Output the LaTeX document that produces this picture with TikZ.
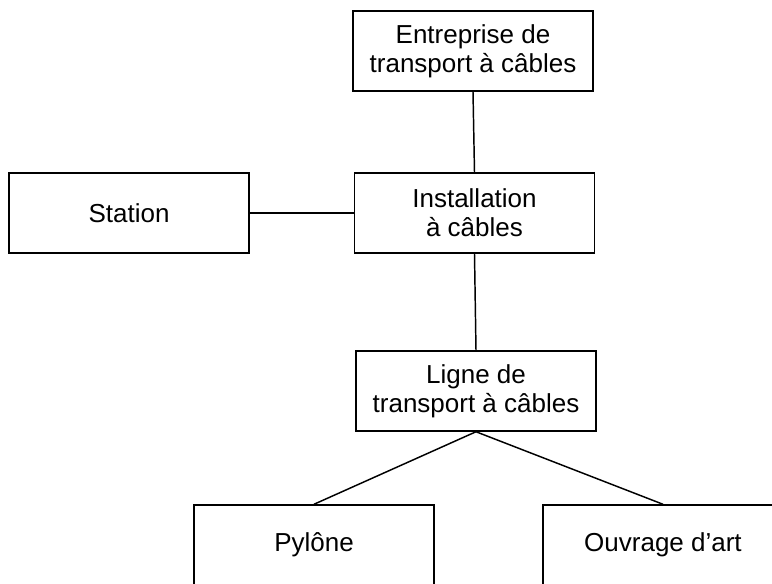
\documentclass[tikz,border=0pt]{standalone}
\usepackage{fontspec}
\setmainfont{Liberation Sans}
\tikzset{
  box/.style={draw, rectangle, line width=1.1pt, minimum width=180pt, minimum height=60pt,
    align=center, inner sep=0pt, font=\fontsize{19.5pt}{21.5pt}\selectfont},
  link/.style={line width=1.1pt}
}
\begin{document}
\begin{tikzpicture}[x=0.75pt, y=-0.75pt]
\useasboundingbox (0,0) rectangle (772,583);
\clip (0,0) rectangle (772,583);
\node[box] (ent) at (473,51) {Entreprise de\\transport à câbles};
\node[box] (inst) at (474.5,213) {Installation\\à câbles};
\node[box] (station) at (129,213) {Station};
\node[box] (ligne) at (476,391) {Ligne de\\transport à câbles};
\node[box] (pylone) at (314,545) {Pylône};
\node[box] (ouvrage) at (663,545) {Ouvrage d’art};
\draw[link] (ent.south) -- (inst.north);
\draw[link] (station.east) -- (inst.west);
\draw[link] (inst.south) -- (ligne.north);
\draw[link] (ligne.south) -- (pylone.north);
\draw[link] (ligne.south) -- (ouvrage.north);
\end{tikzpicture}
\end{document}
